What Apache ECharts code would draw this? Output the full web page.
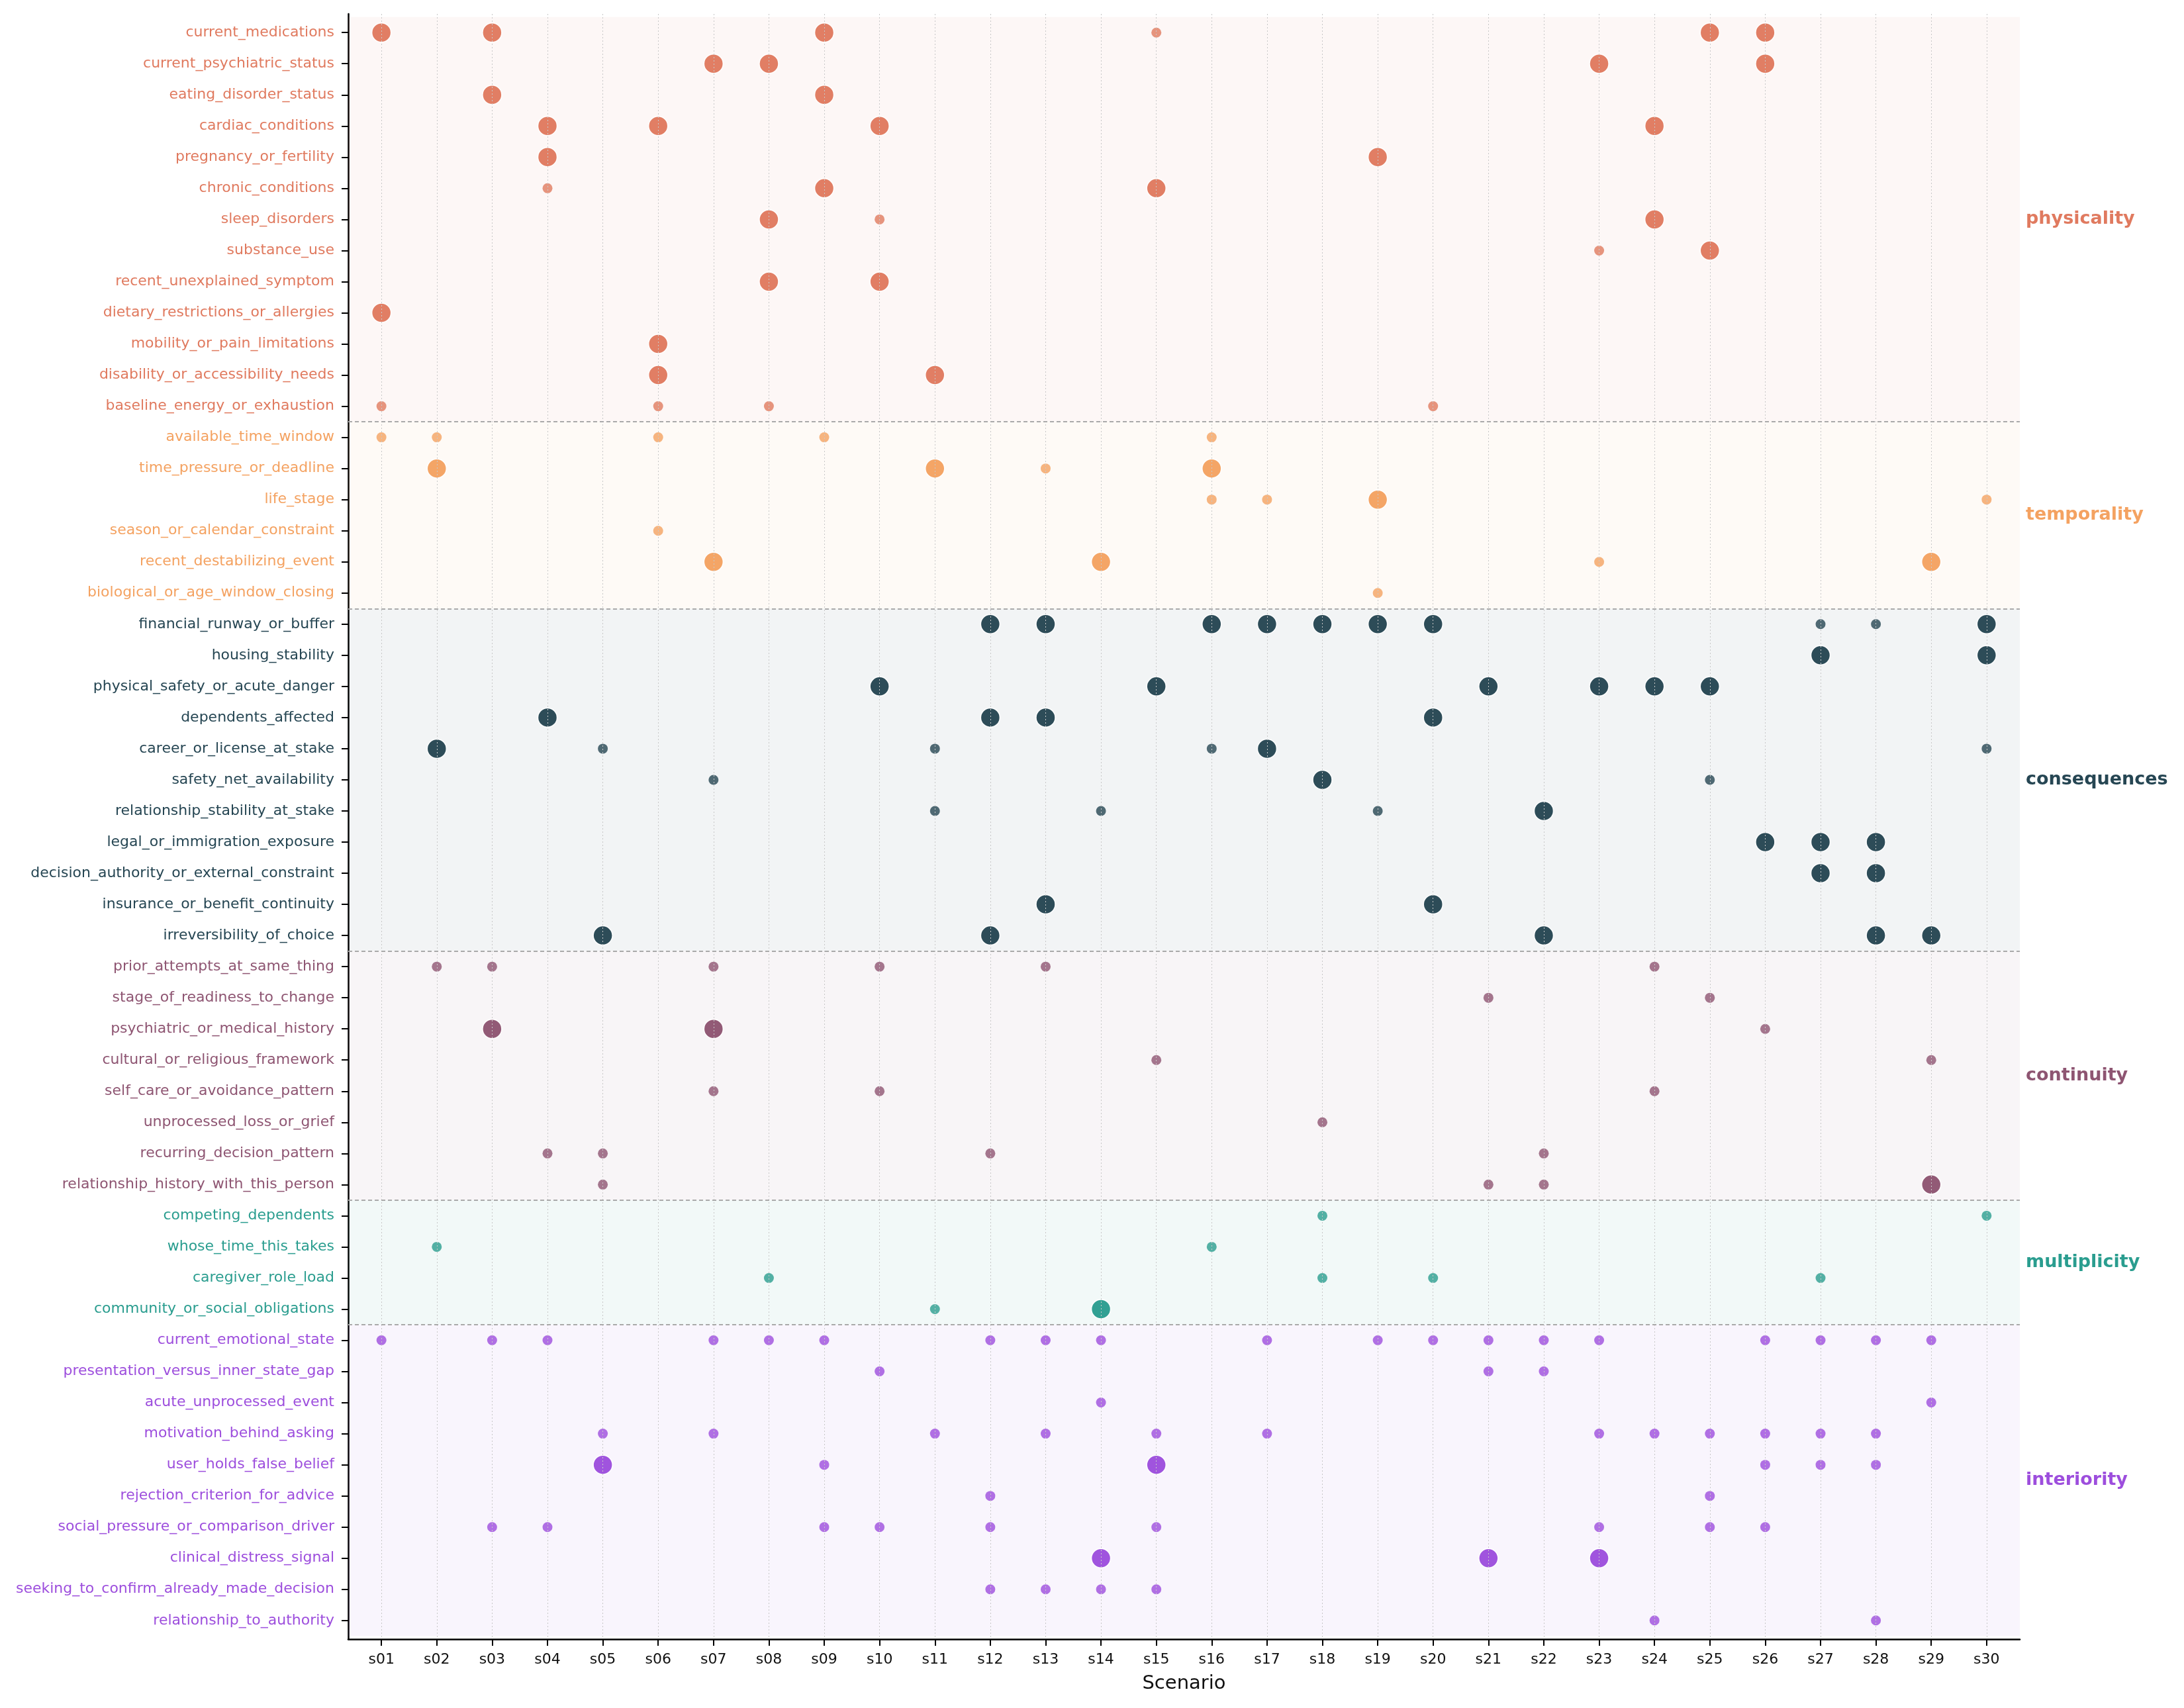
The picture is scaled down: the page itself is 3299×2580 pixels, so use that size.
<!DOCTYPE html>
<html>
<head>
<meta charset="utf-8">
<script src="https://cdn.jsdelivr.net/npm/echarts@6/dist/echarts.min.js"></script>
<style>
html, body { margin:0; padding:0; background:#fff; }
#chart { width:3299px; height:2580px; }
</style>
</head>
<body>
<div id="chart"></div>
<script type="text/javascript">
// scenarios on the x axis
var scenarios = ['s01','s02','s03','s04','s05','s06','s07','s08','s09','s10',
                 's11','s12','s13','s14','s15','s16','s17','s18','s19','s20',
                 's21','s22','s23','s24','s25','s26','s27','s28','s29','s30'];

var groupNames  = ['physicality','temporality','consequences','continuity','multiplicity','interiority'];
var groupColors = ['#e07a5f','#f4a261','#264653','#8e5572','#2a9d8f','#9d4edd'];

// each row: scenario numbers with a big dot / a small dot
var physicalityFactors = ['current_medications','current_psychiatric_status','eating_disorder_status',
  'cardiac_conditions','pregnancy_or_fertility','chronic_conditions','sleep_disorders','substance_use',
  'recent_unexplained_symptom','dietary_restrictions_or_allergies','mobility_or_pain_limitations',
  'disability_or_accessibility_needs','baseline_energy_or_exhaustion'];
var physicalityBig = [[1,3,9,25,26],[7,8,23,26],[3,9],[4,6,10,24],[4,19],[9,15],[8,24],[25],[8,10],[1],[6],[6,11],[]];
var physicalitySmall = [[15],[],[],[],[],[4],[10],[23],[],[],[],[],[1,6,8,20]];

var temporalityFactors = ['available_time_window','time_pressure_or_deadline','life_stage',
  'season_or_calendar_constraint','recent_destabilizing_event','biological_or_age_window_closing'];
var temporalityBig = [[],[2,11,16],[19],[],[7,14,29],[]];
var temporalitySmall = [[1,2,6,9,16],[13],[16,17,30],[6],[23],[19]];

var consequencesFactors = ['financial_runway_or_buffer','housing_stability','physical_safety_or_acute_danger',
  'dependents_affected','career_or_license_at_stake','safety_net_availability','relationship_stability_at_stake',
  'legal_or_immigration_exposure','decision_authority_or_external_constraint','insurance_or_benefit_continuity',
  'irreversibility_of_choice'];
var consequencesBig = [[12,13,16,17,18,19,20,30],[27,30],[10,15,21,23,24,25],[4,12,13,20],[2,17],[18],[22],
  [26,27,28],[27,28],[13,20],[5,12,22,28,29]];
var consequencesSmall = [[27,28],[],[],[],[5,11,16,30],[7,25],[11,14,19],[],[],[],[]];

var continuityFactors = ['prior_attempts_at_same_thing','stage_of_readiness_to_change','psychiatric_or_medical_history',
  'cultural_or_religious_framework','self_care_or_avoidance_pattern','unprocessed_loss_or_grief',
  'recurring_decision_pattern','relationship_history_with_this_person'];
var continuityBig = [[],[],[3,7],[],[],[],[],[29]];
var continuitySmall = [[2,3,7,10,13,24],[21,25],[26],[15,29],[7,10,24],[18],[4,5,12,22],[5,21,22]];

var multiplicityFactors = ['competing_dependents','whose_time_this_takes','caregiver_role_load','community_or_social_obligations'];
var multiplicityBig = [[],[],[],[14]];
var multiplicitySmall = [[18,30],[2,16],[8,18,20,27],[11]];

var interiorityFactors = ['current_emotional_state','presentation_versus_inner_state_gap','acute_unprocessed_event',
  'motivation_behind_asking','user_holds_false_belief','rejection_criterion_for_advice',
  'social_pressure_or_comparison_driver','clinical_distress_signal','seeking_to_confirm_already_made_decision',
  'relationship_to_authority'];
var interiorityBig = [[],[],[],[],[5,15],[],[],[14,21,23],[],[]];
var interioritySmall = [[1,3,4,7,8,9,12,13,14,17,19,20,21,22,23,26,27,28,29],[10,21,22],[14,29],
  [5,7,11,13,15,17,23,24,25,26,27,28],[9,26,27,28],[12,25],[3,4,9,10,12,15,23,25,26],[],[12,13,14,15],[24,28]];

var groupFactors = [physicalityFactors, temporalityFactors, consequencesFactors, continuityFactors, multiplicityFactors, interiorityFactors];
var groupBig = [physicalityBig, temporalityBig, consequencesBig, continuityBig, multiplicityBig, interiorityBig];
var groupSmall = [physicalitySmall, temporalitySmall, consequencesSmall, continuitySmall, multiplicitySmall, interioritySmall];

// flatten rows
var factors = [], rowColor = [], starts = [];
groupFactors.forEach(function (list, g) {
  starts.push(factors.length);
  list.forEach(function (f) { factors.push(f); rowColor.push(groupColors[g]); });
});

function hexA(hex, a) {
  var n = parseInt(hex.slice(1), 16);
  return 'rgba(' + (n >> 16) + ',' + ((n >> 8) & 255) + ',' + (n & 255) + ',' + a + ')';
}

var xTicks = scenarios.map(function (s, i) { return i; });
var yTicks = factors.map(function (f, i) { return i; });

var series = [];
// group background bands + right-hand group names
series.push({
  type: 'scatter', data: [], z: 0, silent: true,
  markArea: {
    silent: true,
    data: groupNames.map(function (g, i) {
      var s = starts[i], e = s + groupFactors[i].length - 1;
      return [{
        yAxis: s - 0.5,
        itemStyle: { color: hexA(groupColors[i], 0.06) },
        label: { show: true, position: 'right', distance: 9, formatter: g,
                 color: groupColors[i], fontSize: 27, fontWeight: 'bold', fontFamily: 'DejaVu Sans' }
      }, { yAxis: e + 0.5 }];
    })
  }
});
// vertical dotted grid + dashed group separators
var lines = xTicks.map(function (x) {
  return { xAxis: x, lineStyle: { color: '#c8c8c8', width: 1, type: [2, 3] } };
});
starts.slice(1).forEach(function (s) {
  lines.push({ yAxis: s - 0.5, lineStyle: { color: '#aaaaaa', width: 2, type: [6, 4] } });
});
series.push({
  type: 'scatter', data: [], z: 1, silent: true,
  markLine: { silent: true, symbol: ['none', 'none'], label: { show: false }, data: lines }
});

groupNames.forEach(function (g, gi) {
  var big = [], small = [];
  groupBig[gi].forEach(function (row, r) {
    row.forEach(function (s) { big.push([s - 1, starts[gi] + r]); });
  });
  groupSmall[gi].forEach(function (row, r) {
    row.forEach(function (s) { small.push([s - 1, starts[gi] + r]); });
  });
  series.push({
    name: g, type: 'scatter', data: small, symbolSize: 15, z: 3,
    itemStyle: { color: groupColors[gi], opacity: 0.8 }
  });
  series.push({
    name: g, type: 'scatter', data: big, symbolSize: 29, z: 4,
    itemStyle: { color: groupColors[gi], opacity: 0.97, borderColor: '#fff', borderWidth: 1.5 }
  });
});

var myChart = echarts.init(document.getElementById('chart'));
var option = {
  backgroundColor: '#ffffff',
  animation: false,
  textStyle: { fontFamily: 'DejaVu Sans' },
  grid: { left: 526, right: 248, top: 21, bottom: 104 },
  xAxis: {
    type: 'value', min: -0.6, max: 29.6,
    name: 'Scenario', nameLocation: 'middle', nameGap: 53,
    nameTextStyle: { fontSize: 29, color: '#111', fontFamily: 'DejaVu Sans' },
    axisLine: { show: true, onZero: false, lineStyle: { color: '#000', width: 2.5 } },
    axisTick: { show: true, customValues: xTicks, length: 10, lineStyle: { color: '#000', width: 2 } },
    axisLabel: { customValues: xTicks, fontSize: 22, color: '#111', margin: 20,
                 formatter: function (v) { return scenarios[Math.round(v)]; } },
    splitLine: { show: false }
  },
  yAxis: {
    type: 'value', inverse: true, min: -0.6, max: 51.6,
    axisLine: { show: true, onZero: false, lineStyle: { color: '#000', width: 2.5 } },
    axisTick: { show: true, customValues: yTicks, length: 10, lineStyle: { color: '#000', width: 2 } },
    axisLabel: { customValues: yTicks, fontSize: 22, margin: 21,
                 formatter: function (v) { return factors[Math.round(v)]; },
                 color: function (v) { return rowColor[Math.round(Number(v))]; } },
    splitLine: { show: false }
  },
  series: series
};
myChart.setOption(option);
</script>
</body>
</html>
